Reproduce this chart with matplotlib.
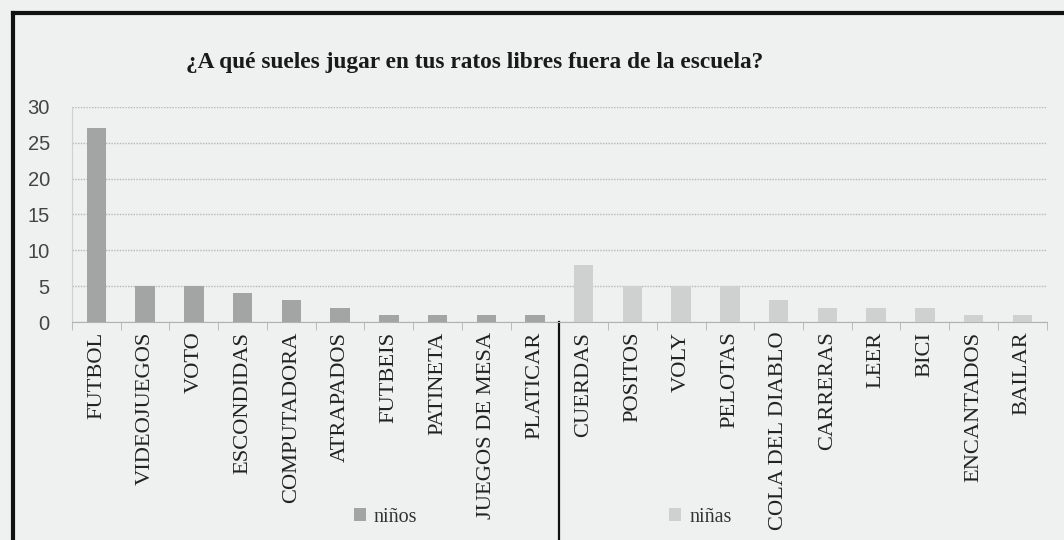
import matplotlib.pyplot as plt
import numpy as np

# categories / values
ninos_cats = ['FUTBOL', 'VIDEOJUEGOS', 'VOTO', 'ESCONDIDAS', 'COMPUTADORA',
              'ATRAPADOS', 'FUTBEIS', 'PATINETA', 'JUEGOS DE MESA', 'PLATICAR']
ninos_vals = [27, 5, 5, 4, 3, 2, 1, 1, 1, 1]

ninas_cats = ['CUERDAS', 'POSITOS', 'VOLY', 'PELOTAS', 'COLA DEL DIABLO',
              'CARRERAS', 'LEER', 'BICI', 'ENCANTADOS', 'BAILAR']
ninas_vals = [8, 5, 5, 5, 3, 2, 2, 2, 1, 1]

yticks = [0, 5, 10, 15, 20, 25, 30]
title = '¿A qué sueles jugar en tus ratos libres fuera de la escuela?'

bg = '#eff1f0'
fig = plt.figure(figsize=(10.64, 5.4), dpi=100, facecolor=bg)
ax = fig.add_axes([0.0677, 0.4037, 0.916, 0.3982], facecolor=bg)

cats = ninos_cats + ninas_cats
x = np.arange(len(cats))
n = len(ninos_cats)
ax.bar(x[:n], ninos_vals, width=0.4, color='#a3a5a5', label='niños', zorder=3)
ax.bar(x[n:], ninas_vals, width=0.4, color='#cfd1d1', label='niñas', zorder=3)

ax.set_xlim(-0.5, len(cats) - 0.5)
ax.set_ylim(0, 30)
ax.set_yticks(yticks)
ax.set_yticklabels([str(t) for t in yticks], fontsize=14.5, color='#444444',
                   family='Liberation Sans')
ax.tick_params(axis='y', length=0, pad=16)
ax.yaxis.grid(True, color='#b5b7b7', linestyle=(0, (1, 1)), linewidth=1, zorder=0)

ax.set_xticks(x)
ax.set_xticklabels(cats, rotation=90, fontsize=16.2, family='Liberation Serif',
                   color='#222222')
ax.set_xticks(np.arange(-0.5, len(cats)), minor=True)
ax.tick_params(axis='x', which='major', length=0, pad=7)
ax.tick_params(axis='x', which='minor', length=6, color='#b0b2b2', direction='out')

for s in ['top', 'right']:
    ax.spines[s].set_visible(False)
ax.spines['left'].set_color('#cfd1d1')
ax.spines['bottom'].set_color('#b0b2b2')

# separator line between the two groups
trans = ax.get_xaxis_transform()
ax.plot([n - 0.5, n - 0.5], [0, -1.1], transform=trans, color='#111111',
        linewidth=1.6, clip_on=False)

fig.text(0.446, 0.884, title, ha='center', va='center', fontsize=16.8,
         fontweight='bold', family='Liberation Serif', color='#1a1a1a')

leg = fig.legend(loc='center', bbox_to_anchor=(0.51, 0.042), ncol=2,
                 frameon=False, columnspacing=12.5, handlelength=0.6,
                 handleheight=0.6, handletextpad=0.4,
                 prop={'family': 'Liberation Serif', 'size': 14.5})
for t in leg.get_texts():
    t.set_color('#333333')

# frame of the scanned figure
fig.add_artist(plt.Line2D([0.0122, 0.0122], [0, 0.976], color='#111111',
                          linewidth=3, transform=fig.transFigure))
fig.add_artist(plt.Line2D([0.0122, 1.0], [0.976, 0.976], color='#111111',
                          linewidth=3, transform=fig.transFigure))

fig.savefig('out.png', dpi=100, facecolor=bg)
